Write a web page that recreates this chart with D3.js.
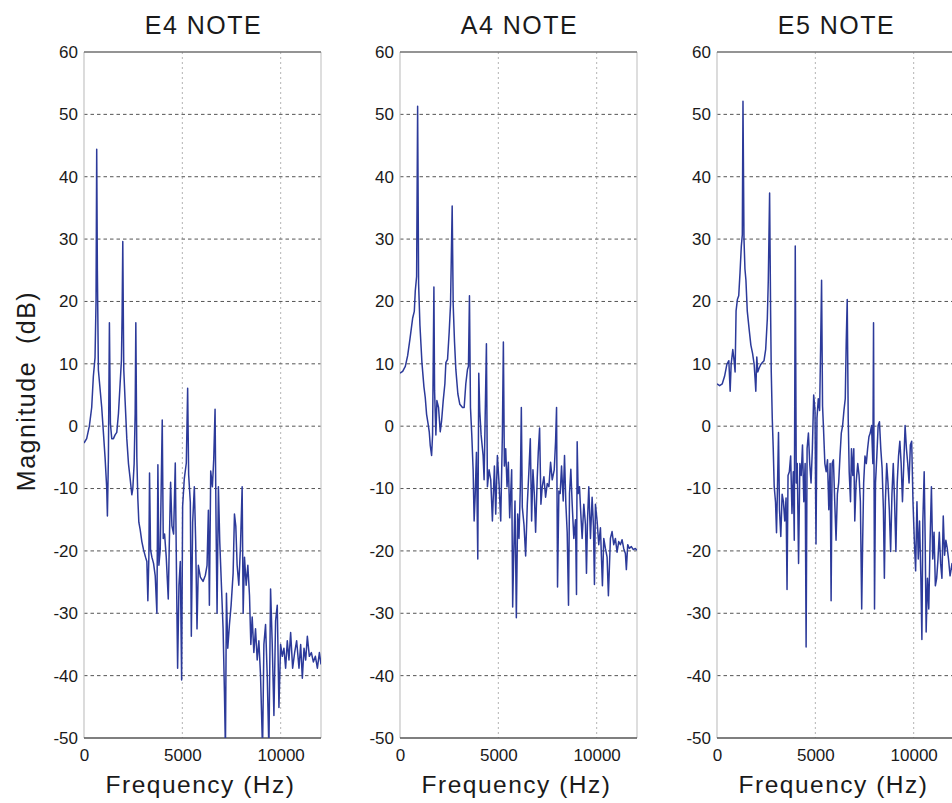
<!DOCTYPE html>
<html>
<head>
<meta charset="utf-8">
<script src="https://cdn.jsdelivr.net/npm/d3@7"></script>
<style>
  html, body { margin: 0; padding: 0; background: #fff; overflow: hidden; }
  svg { display: block; font-family: "Liberation Sans", Arial, sans-serif; }
</style>
</head>
<body>
<svg id="chart" width="960" height="803"></svg>
<script>
// Panel titles and axis ticks
const noteTitles = ["E4 NOTE", "A4 NOTE", "E5 NOTE"];
const magTicks = [60, 50, 40, 30, 20, 10, 0, -10, -20, -30, -40, -50];
const magGrid = [50, 40, 30, 20, 10, 0, -10, -20, -30, -40];
const freqTicks = [0, 5000, 10000];
const freqGrid = [5000, 10000];

// Magnitude spectra: [frequency Hz, magnitude dB]
const e4Spectrum = [
  [0,-2.7],[136,-2],[272,0],[391,3],[476,8],[561,11],[612,20],[646,44.4],[680,25],[731,9],
  [816,6],[901,3],[986,-1],[1071,-5],[1156,-10],[1190,-14.4],[1241,-5],[1292,16.6],[1343,0.4],[1411,-2],
  [1496,-2],[1581,-1.4],[1666,-1],[1751,2],[1836,6.8],[1904,10.6],[1938,18],[1972,29.6],[2006,15],[2023,9],
  [2091,4],[2176,-2],[2261,-6],[2346,-8.4],[2431,-11],[2482,-10],[2550,-6],[2601,2],[2635,16.6],[2686,-5],
  [2737,-11.6],[2788,-15.4],[2856,-16.6],[2941,-18.5],[3026,-19.8],[3128,-21],[3196,-21.7],[3247,-28],[3298,-21],[3332,-7.5],
  [3383,-19.8],[3451,-21],[3536,-22],[3621,-24],[3706,-30],[3757,-6.2],[3808,-22.3],[3876,-19.8],[3978,1],[4029,-18],
  [4097,-17.3],[4182,-21],[4284,-27.7],[4335,-19.2],[4403,-9],[4471,-16],[4556,-17.3],[4641,-5.9],[4709,-25.5],[4760,-38.8],
  [4828,-25.5],[4896,-21.7],[4964,-40.7],[5015,-12.8],[5100,-8.4],[5202,-5.9],[5270,6.1],[5321,-7.8],[5406,-12.2],[5457,-33.7],
  [5525,-15.4],[5610,-9.7],[5678,-18.5],[5746,-32.5],[5814,-22.3],[5916,-24.2],[6052,-24.9],[6171,-23.9],[6256,-22.3],[6324,-13.5],
  [6375,-28.7],[6443,-7.2],[6528,-9.7],[6596,-5.3],[6664,2.7],[6715,-16],[6766,-30],[6834,-9.7],[6902,-18.5],[6987,-25.5],
  [7072,-32.5],[7140,-42.6],[7191,-52],[7242,-26.8],[7310,-35.6],[7395,-31.8],[7480,-28.7],[7582,-23.6],[7650,-14.1],[7718,-16],
  [7786,-22.3],[7871,-25.5],[7956,-19.2],[8041,-9.7],[8092,-30],[8160,-21],[8245,-25.5],[8330,-22.3],[8415,-27.2],[8483,-35],
  [8551,-30.6],[8636,-36.3],[8721,-32.5],[8806,-37.5],[8891,-34.4],[8976,-40],[9078,-52],[9146,-35],[9231,-31.8],[9316,-40],
  [9401,-52],[9486,-26.1],[9571,-35],[9656,-46.4],[9741,-31.2],[9826,-28.7],[9911,-45.1],[9996,-35],[10081,-36.9],[10166,-35.6],
  [10251,-38.8],[10336,-34.4],[10421,-37.5],[10506,-33.1],[10608,-38.8],[10710,-36.3],[10812,-34.4],[10931,-38.8],[11016,-35],[11101,-40.4],
  [11186,-35.6],[11271,-37.5],[11356,-33.7],[11458,-36.9],[11560,-36.3],[11662,-37.8],[11764,-36.9],[11866,-38.8],[11968,-36.3],[12050,-38.2]
];

const a4Spectrum = [
  [0,8.5],[135,8.8],[270,9.6],[389,11.3],[507,14],[642,17.3],[727,18.4],[777,21.7],[845,24],[896,51.3],
  [946,22.8],[1014,16.2],[1115,10.2],[1217,6.3],[1284,4.6],[1352,1.9],[1437,0.2],[1487,-0.9],[1538,-3.1],[1606,-4.7],
  [1656,-1.4],[1724,22.3],[1758,5.7],[1825,-1.4],[1876,4.1],[1960,3],[2045,-0.9],[2113,0.8],[2197,4.1],[2282,6.8],
  [2332,10.2],[2417,10.7],[2501,15.1],[2569,19.5],[2653,35.3],[2704,19.5],[2772,13.5],[2839,9.1],[2941,5.2],[3042,3.5],
  [3177,3],[3262,3],[3346,6.8],[3431,9.1],[3481,9.6],[3532,20.9],[3583,3],[3650,-1.4],[3718,-7],[3769,-15.2],
  [3819,-11.4],[3887,-4.2],[3955,-21.3],[4005,8.5],[4056,2.4],[4124,-1.4],[4225,-4.7],[4276,-8.6],[4394,13.2],[4445,-9.7],
  [4529,-7],[4614,-8.6],[4698,-15.2],[4800,-6.4],[4867,-14.1],[4952,-4.7],[5036,-9.2],[5121,-15.2],[5205,-1.4],[5256,13.5],
  [5307,-6.4],[5374,-3.6],[5442,-9.7],[5509,-5.8],[5577,-14.7],[5678,-7],[5729,-29],[5780,-20.8],[5847,-12],[5915,-30.7],
  [5983,-14.1],[6050,-18],[6118,-9.7],[6169,3],[6219,-13],[6304,-15.8],[6388,-20.8],[6473,-12.5],[6557,-7],[6625,-2],
  [6692,-15.2],[6760,-7],[6828,-10.8],[6895,-17],[6980,-8.1],[7030,-4.2],[7098,-0.3],[7165,-12.5],[7233,-9.7],[7318,-8.1],
  [7402,-11.4],[7487,-9.2],[7571,-9.7],[7656,-5.8],[7740,-8.6],[7842,-7],[7909,-2.5],[7960,3],[8010,-25.8],[8078,-10.4],
  [8146,-10.8],[8213,-6.4],[8298,-12],[8365,-4.7],[8433,-12.5],[8501,-17],[8568,-28.7],[8619,-10.8],[8686,-6.9],[8754,-12.5],
  [8838,-18],[8923,-15],[8974,-27],[9008,-2.5],[9058,-10.8],[9126,-9.7],[9194,-14.1],[9261,-18],[9346,-12.5],[9430,-15.8],
  [9481,-23.6],[9532,-15.2],[9599,-9.7],[9684,-18],[9768,-11.4],[9836,-16],[9886,-25.4],[9937,-12.5],[10022,-15.2],[10106,-19],
  [10191,-16.3],[10292,-25.6],[10360,-18],[10444,-19.6],[10529,-21],[10596,-27.2],[10698,-18],[10782,-16.9],[10867,-19],[10951,-18],
  [11036,-20.2],[11120,-18.5],[11205,-19],[11290,-18.2],[11374,-19.6],[11459,-20.4],[11509,-23],[11577,-19],[11661,-19.6],[11762,-19.3],
  [11864,-19.8],[11965,-19.6],[12050,-19.9]
];

const e5Spectrum = [
  [0,6.8],[134,6.5],[268,6.8],[385,8],[502,9.9],[602,10.5],[669,5.6],[719,9.9],[803,12.3],[869,10.5],
  [920,8.7],[970,18.5],[1037,20.3],[1104,20.9],[1170,24.6],[1237,28.9],[1287,30.7],[1321,52.1],[1371,30.1],[1421,25.2],
  [1471,23.4],[1538,18.5],[1639,15.4],[1722,13],[1806,11.7],[1889,9.9],[1940,7.4],[1973,5.6],[2023,11.1],[2073,8.7],
  [2140,9.3],[2224,9.9],[2307,10.2],[2391,10.5],[2475,12.3],[2558,17.2],[2608,23.4],[2675,37.4],[2725,18.5],[2759,8.7],
  [2809,1.3],[2859,-3.6],[2909,-9.7],[2976,-12.2],[3026,-17.1],[3076,-9.7],[3127,-1],[3177,-13.4],[3244,-17.7],[3311,-10.9],
  [3377,-12.1],[3444,-15.2],[3511,-11.5],[3561,-26.2],[3612,-7.9],[3678,-7.3],[3745,-4.8],[3812,-14],[3879,-7.3],[3929,-18.3],
  [3979,28.9],[4030,-9.1],[4080,-6],[4147,-22],[4214,-6],[4281,-7.9],[4347,-3],[4414,-12.1],[4481,-6],[4531,-35.4],
  [4581,-3.6],[4648,-1.1],[4715,-6],[4782,-9.1],[4849,-3.6],[4916,5],[4983,2.5],[5033,-18.9],[5083,1.3],[5150,4.4],
  [5217,2.5],[5267,12.3],[5317,23.4],[5367,3.2],[5417,-0.5],[5484,-6],[5551,-7.3],[5618,-5.4],[5685,-13.4],[5752,-6],
  [5802,-28],[5852,-6],[5919,-5.4],[5986,-12.1],[6053,-18.3],[6120,-10.9],[6186,-9.1],[6253,-4.8],[6320,-1.1],[6387,0.1],
  [6454,2.5],[6521,4.4],[6571,13.6],[6621,20.3],[6671,1.3],[6721,-7.3],[6788,-12.1],[6838,-3.6],[6905,-7.9],[6955,-3.6],
  [7005,-15.2],[7072,-9.1],[7156,-6],[7223,-7.9],[7290,-12.1],[7357,-29.3],[7407,-18.3],[7457,-9.1],[7524,-4.8],[7591,-6],
  [7658,-3.6],[7725,-1.7],[7792,-1.1],[7858,0.1],[7925,-6],[7959,16.6],[8009,-29.3],[8059,-9.1],[8126,-4.8],[8193,0.1],
  [8260,0.7],[8327,-3.6],[8394,-6.7],[8461,-13.4],[8510,-24.4],[8561,-12.1],[8628,-6],[8694,-9.1],[8761,-13.4],[8828,-20.1],
  [8895,-10.9],[8962,-6],[9029,-12.1],[9096,-20.1],[9163,-9.1],[9230,-4.8],[9297,-2.4],[9363,-6],[9430,-12.1],[9497,-6],
  [9564,0.1],[9631,-3.6],[9698,-6],[9765,-9.1],[9831,-3],[9898,-2.4],[9965,-12.1],[10032,-18.3],[10099,-23.2],[10166,-12.1],
  [10233,-21.3],[10300,-15.2],[10366,-24.4],[10417,-34.2],[10467,-15.2],[10534,-7.3],[10584,-18.3],[10634,-33],[10701,-24.4],[10768,-29.3],
  [10835,-18.3],[10902,-9.7],[10969,-21.3],[11036,-17],[11102,-25.6],[11169,-24.4],[11236,-21.3],[11303,-17],[11370,-22],[11437,-24.4],
  [11504,-14.4],[11571,-20.7],[11637,-18.3],[11704,-19.5],[11771,-21.3],[11850,-24],[11950,-22],[12050,-25]
];

const spectra = [e4Spectrum, a4Spectrum, e5Spectrum];

// Layout
const svg = d3.select("#chart");
const panelLeft = [84, 400, 717];
const plotW = 237;
const plotTop = 52, plotBottom = 738;
const freqMax = 12050;

const y = d3.scaleLinear().domain([-50, 60]).range([plotBottom, plotTop]);

spectra.forEach((data, i) => {
  const x0 = panelLeft[i];
  const x = d3.scaleLinear().domain([0, freqMax]).range([x0, x0 + plotW]);
  const g = svg.append("g").attr("class", "panel");

  // plot-area clip so deep notches stop at the -50 dB floor
  svg.append("clipPath").attr("id", "clip" + i)
    .append("rect")
    .attr("x", x0).attr("y", plotTop)
    .attr("width", plotW).attr("height", plotBottom - plotTop);

  // vertical grid (dotted, light)
  g.selectAll(".vgrid").data(freqGrid).join("line")
    .attr("x1", d => x(d)).attr("x2", d => x(d))
    .attr("y1", plotTop).attr("y2", plotBottom)
    .attr("stroke", "#b4b4b4").attr("stroke-width", 1)
    .attr("stroke-dasharray", "2,3");

  // horizontal grid (dashed, darker)
  g.selectAll(".hgrid").data(magGrid).join("line")
    .attr("x1", x0).attr("x2", x0 + plotW)
    .attr("y1", d => y(d)).attr("y2", d => y(d))
    .attr("stroke", "#555").attr("stroke-width", 1)
    .attr("stroke-dasharray", "3.5,3");

  // frame: light sides, darker top and bottom
  g.append("line").attr("x1", x0).attr("x2", x0).attr("y1", plotTop).attr("y2", plotBottom)
    .attr("stroke", "#c4c4c4").attr("stroke-width", 1.2);
  g.append("line").attr("x1", x0 + plotW).attr("x2", x0 + plotW).attr("y1", plotTop).attr("y2", plotBottom)
    .attr("stroke", "#c8c8c8").attr("stroke-width", 1.2);
  g.append("line").attr("x1", x0).attr("x2", x0 + plotW).attr("y1", plotTop).attr("y2", plotTop)
    .attr("stroke", "#707070").attr("stroke-width", 1.3);
  g.append("line").attr("x1", x0).attr("x2", x0 + plotW).attr("y1", plotBottom).attr("y2", plotBottom)
    .attr("stroke", "#555").attr("stroke-width", 1.3);

  // spectrum trace
  const line = d3.line().x(d => x(d[0])).y(d => y(d[1]));
  g.append("path")
    .datum(data)
    .attr("clip-path", `url(#clip${i})`)
    .attr("fill", "none")
    .attr("stroke", "#2c3a9a")
    .attr("stroke-width", 1.5)
    .attr("stroke-linejoin", "round")
    .attr("d", line);

  // y axis labels
  const yAxis = g.append("g").attr("transform", `translate(${x0},0)`)
    .call(d3.axisLeft(y).tickValues(magTicks).tickSize(0).tickPadding(6).tickFormat(d => String(d)));
  yAxis.select(".domain").remove();
  yAxis.selectAll("text")
    .attr("font-family", '"Liberation Sans", Arial, sans-serif')
    .attr("font-size", 17).attr("fill", "#1a1a1a");

  // x axis labels
  const xAxis = g.append("g").attr("transform", `translate(0,${plotBottom})`)
    .call(d3.axisBottom(x).tickValues(freqTicks).tickSize(0).tickPadding(11).tickFormat(d => String(d)));
  xAxis.select(".domain").remove();
  xAxis.selectAll("text")
    .attr("font-family", '"Liberation Sans", Arial, sans-serif')
    .attr("font-size", 17).attr("fill", "#1a1a1a");

  // title
  g.append("text")
    .attr("x", x0 + plotW / 2 + 1).attr("y", 34)
    .attr("text-anchor", "middle")
    .attr("font-size", 25).attr("letter-spacing", 1.5).attr("fill", "#1a1a1a")
    .text(noteTitles[i]);

  // x axis title
  g.append("text")
    .attr("x", x0 + plotW / 2 - 2).attr("y", 793)
    .attr("text-anchor", "middle")
    .attr("font-size", 24.5).attr("letter-spacing", 1.5).attr("fill", "#1a1a1a")
    .text("Frequency (Hz)");
});

// y axis title (first panel only)
svg.append("text")
  .attr("transform", "translate(35,391) rotate(-90)")
  .attr("text-anchor", "middle")
  .attr("font-size", 25).attr("letter-spacing", 1.5).attr("fill", "#1a1a1a")
  .style("white-space", "pre")
  .text("Magnitude  (dB)");
</script>
</body>
</html>
